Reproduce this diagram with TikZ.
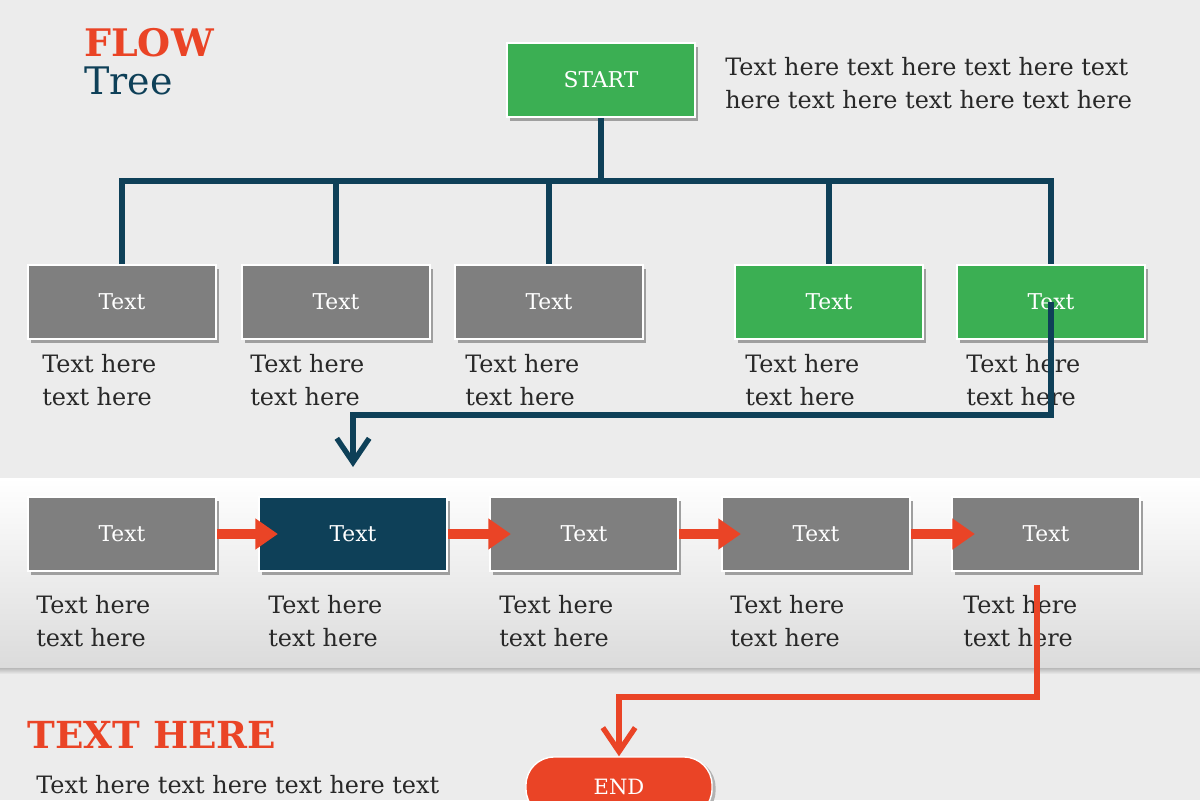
\documentclass[tikz,border=0pt]{standalone}
\usepackage{fontspec}
\setmainfont{DejaVu Serif}
\usetikzlibrary{arrows.meta,shadows,calc}
\definecolor{flowred}{RGB}{234,68,38}
\definecolor{flowteal}{RGB}{14,64,88}
\definecolor{flowgreen}{RGB}{59,175,83}
\definecolor{flowgray}{RGB}{127,127,127}
\definecolor{bgray}{RGB}{236,236,236}
\definecolor{txtgray}{RGB}{40,40,40}

\begin{document}
\begin{tikzpicture}[x=0.025cm,y=-0.025cm,
  box/.style={draw=white,line width=1.5pt,minimum width=4.7cm,minimum height=1.85cm,
    text=white,font=\fontsize{15.5}{17}\selectfont,
    drop shadow={shadow xshift=2pt,shadow yshift=-2.5pt,fill=gray!75,opacity=1}},
  lbl/.style={anchor=north west,inner sep=0pt,align=left,text=txtgray,
    font=\fontsize{17}{23.4}\selectfont},
  tree/.style={flowteal,line width=3.8pt},
  redline/.style={flowred,line width=3.8pt},
  flowarrow/.style={flowred,line width=7pt,-{Triangle[length=16pt,width=21pt]}}]
\useasboundingbox (0,0) rectangle (1200,800);
\clip (0,0) rectangle (1200,800);
\fill[bgray] (0,0) rectangle (1200,800);
% band behind the second row
\shade[top color=white,bottom color=gray!28] (0,478) rectangle (1200,668);
\shade[top color=gray!55,bottom color=bgray] (0,668) rectangle (1200,674);

% titles
\node[anchor=north west,inner sep=0pt,text=flowred,font=\fontsize{27}{30}\selectfont\bfseries] (flow) at (84,28) {FLOW};
\node[anchor=north west,inner sep=0pt,text=flowteal,font=\fontsize{27}{30}\selectfont] (tree) at (84,67) {Tree};
\node[anchor=north west,inner sep=0pt,text=flowred,font=\fontsize{26.5}{29}\selectfont\bfseries] (head) at (27,721) {TEXT HERE};
\node[lbl] (note) at (36,775) {Text here text here text here text};

% start
\node[box,fill=flowgreen] (start) at (601,80) {START};
\node[lbl] (intro) at (725,57) {Text here text here text here text\\here text here text here text here};

% first row
\node[box,fill=flowgray] (t1) at (122,302) {Text};
\node[box,fill=flowgray] (t2) at (336,302) {Text};
\node[box,fill=flowgray] (t3) at (549,302) {Text};
\node[box,fill=flowgreen] (t4) at (829,302) {Text};
\node[box,fill=flowgreen] (t5) at (1051,302) {Text};
\node[lbl] (tl1) at (42,354) {Text here\\text here};
\node[lbl] (tl2) at (250,354) {Text here\\text here};
\node[lbl] (tl3) at (465,354) {Text here\\text here};
\node[lbl] (tl4) at (745,354) {Text here\\text here};
\node[lbl] (tl5) at (966,354) {Text here\\text here};

% tree lines
\coordinate (split) at (600,181);
\draw[tree] (start.south) -- (start.south |- split);
\draw[tree] (t1.north) -- (t1.north |- split) -- (t5.north |- split) -- (t5.north);
\draw[tree] (t2.north) -- (t2.north |- split);
\draw[tree] (t3.north) -- (t3.north |- split);
\draw[tree] (t4.north) -- (t4.north |- split);

% second row
\node[box,fill=flowgray] (b1) at (122,534) {Text};
\node[box,fill=flowteal] (b2) at (353,534) {Text};
\node[box,fill=flowgray] (b3) at (584,534) {Text};
\node[box,fill=flowgray] (b4) at (816,534) {Text};
\node[box,fill=flowgray] (b5) at (1046,534) {Text};
\node[lbl] (bl1) at (36,595) {Text here\\text here};
\node[lbl] (bl2) at (268,595) {Text here\\text here};
\node[lbl] (bl3) at (499,595) {Text here\\text here};
\node[lbl] (bl4) at (730,595) {Text here\\text here};
\node[lbl] (bl5) at (963,595) {Text here\\text here};

\draw[flowarrow] (b1.east) -- ($(b2.west)+(20,0)$);
\draw[flowarrow] (b2.east) -- ($(b3.west)+(22,0)$);
\draw[flowarrow] (b3.east) -- ($(b4.west)+(20,0)$);
\draw[flowarrow] (b4.east) -- ($(b5.west)+(24,0)$);

% link down to the second row
\coordinate (drop) at (353,467);
\draw[tree,-{Straight Barb[length=17pt,width=23pt]}] (t5.center) |- (drop |- 0,415) -- (drop);

% end
\node[draw=white,line width=1pt,fill=flowred,rounded corners=20pt,minimum width=4.65cm,minimum height=1.5cm,
  text=white,font=\fontsize{15}{17}\selectfont,
  drop shadow={shadow xshift=2.5pt,shadow yshift=-1.5pt,fill=gray!60,opacity=1}] (end) at (619,787) {END};
\coordinate (r0) at (1037,585);
\draw[redline,-{Straight Barb[length=17pt,width=23pt]}] (r0) |- (end.north |- 0,697) -- (end.north);
\end{tikzpicture}
\end{document}
